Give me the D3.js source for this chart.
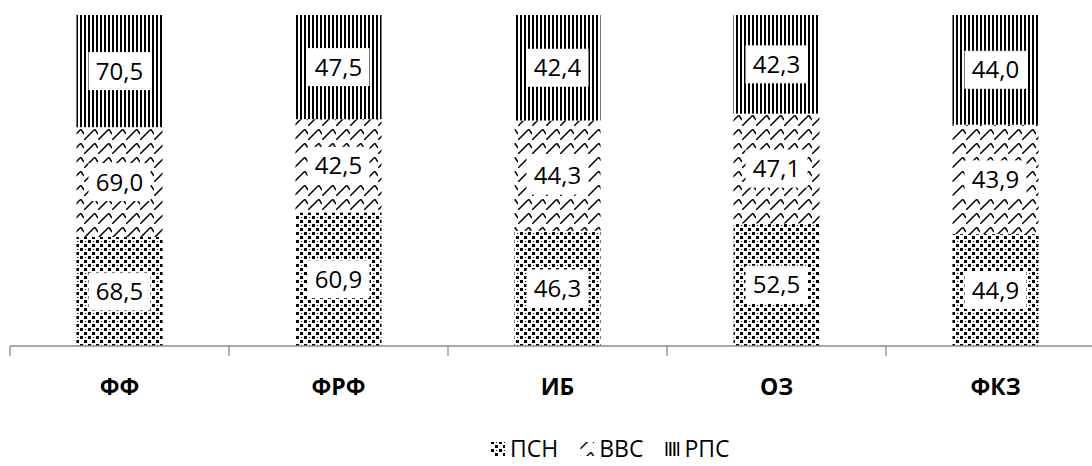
<!DOCTYPE html>
<html>
<head>
<meta charset="utf-8">
<script src="https://cdn.jsdelivr.net/npm/d3@7"></script>
<style>
  html, body { margin: 0; padding: 0; background: #fff; }
  svg { display: block; font-family: "Open Sans", "Liberation Sans", sans-serif; }
</style>
</head>
<body>
<svg id="chart" width="1092" height="466"></svg>
<script>
// Categories and series values (each column is shown as a 100% stack)
const categories = ["ФФ", "ФРФ", "ИБ", "ОЗ", "ФКЗ"];
const seriesNames = ["ПСН", "ВВС", "РПС"];
const psn = [68.5, 60.9, 46.3, 52.5, 44.9];
const vvs = [69.0, 42.5, 44.3, 47.1, 43.9];
const rps = [70.5, 47.5, 42.4, 42.3, 44.0];

const rows = categories.map((c, i) => ({ cat: c, "ПСН": psn[i], "ВВС": vvs[i], "РПС": rps[i] }));

const svg = d3.select("#chart");
const defs = svg.append("defs");

// Fill patterns: dotted squares, wavy shingles, vertical stripes
const pDots = defs.append("pattern").attr("id", "pat-psn")
  .attr("patternUnits", "userSpaceOnUse").attr("width", 8).attr("height", 8);
pDots.append("rect").attr("width", 8).attr("height", 8).attr("fill", "#fff");
[[0,0,3,3],[4,4,3,3],[5,1,1,1]].forEach(r =>
  pDots.append("rect").attr("x", r[0]).attr("y", r[1]).attr("width", r[2]).attr("height", r[3]).attr("fill", "#000"));

const pWave = defs.append("pattern").attr("id", "pat-vvs")
  .attr("patternUnits", "userSpaceOnUse").attr("width", 14).attr("height", 14);
pWave.append("rect").attr("width", 14).attr("height", 14).attr("fill", "#fff");
pWave.append("path").attr("d", "M0,14 L10,4 Q11,3 12,5 L14,8")
  .attr("fill", "none").attr("stroke", "#000").attr("stroke-width", 1.5);

const pStripes = defs.append("pattern").attr("id", "pat-rps")
  .attr("patternUnits", "userSpaceOnUse").attr("width", 4).attr("height", 4);
pStripes.append("rect").attr("width", 4).attr("height", 4).attr("fill", "#fff");
pStripes.append("rect").attr("x", 0).attr("width", 2).attr("height", 4).attr("fill", "#000");

const fills = { "ПСН": "url(#pat-psn)", "ВВС": "url(#pat-vvs)", "РПС": "url(#pat-rps)" };

const x = d3.scaleBand().domain(categories).range([10, 1105])
  .paddingInner(0.607).paddingOuter(0.3035);
const y = d3.scaleLinear().domain([0, 1]).range([346, 15]);

const stack = d3.stack().keys(seriesNames).offset(d3.stackOffsetExpand);
const layers = stack(rows);

const g = svg.append("g");
layers.forEach(layer => {
  const key = layer.key;
  g.selectAll(null).data(layer).enter().append("rect")
    .attr("x", d => x(d.data.cat))
    .attr("y", d => y(d[1]))
    .attr("width", x.bandwidth())
    .attr("height", d => y(d[0]) - y(d[1]))
    .attr("fill", fills[key]);
});

// Value labels in white boxes
layers.forEach(layer => {
  const key = layer.key;
  const lg = g.selectAll(null).data(layer).enter().append("g")
    .attr("transform", d => `translate(${x(d.data.cat) + x.bandwidth() / 2},${(y(d[0]) + y(d[1])) / 2})`);
  lg.append("rect").attr("x", -31).attr("y", -19).attr("width", 62).attr("height", 38).attr("fill", "#fff");
  lg.append("text").attr("text-anchor", "middle").attr("dy", "0.36em")
    .attr("font-size", 24).attr("fill", "#000")
    .text(d => d.data[key].toFixed(1).replace(".", ","));
});

// Category axis with ticks between the categories
const axisG = svg.append("g").attr("transform", "translate(0,346)");
axisG.append("line").attr("x1", 10).attr("x2", 1105).attr("stroke", "#8c8c8c").attr("stroke-width", 1.3);
const boundaries = d3.range(categories.length + 1).map(i => 10 + i * x.step());
axisG.selectAll(null).data(boundaries).enter().append("line")
  .attr("x1", d => d).attr("x2", d => d).attr("y1", 0).attr("y2", 10)
  .attr("stroke", "#8c8c8c").attr("stroke-width", 1.3);
axisG.selectAll(null).data(categories).enter().append("text")
  .attr("x", d => x(d) + x.bandwidth() / 2).attr("y", 49)
  .attr("text-anchor", "middle").attr("font-size", 23).attr("font-weight", "bold")
  .attr("fill", "#000").text(d => d);

// Legend
const legend = svg.append("g").attr("transform", "translate(491,449)");
let lx = 0;
seriesNames.forEach(name => {
  const item = legend.append("g").attr("transform", `translate(${lx},0)`);
  item.append("rect").attr("x", 0).attr("y", -7).attr("width", 14).attr("height", 14).attr("fill", fills[name]);
  const t = item.append("text").attr("x", 19).attr("dy", "0.36em")
    .attr("font-size", 23).attr("fill", "#000").text(name);
  lx += 19 + t.node().getComputedTextLength() + 22;
});
</script>
</body>
</html>
